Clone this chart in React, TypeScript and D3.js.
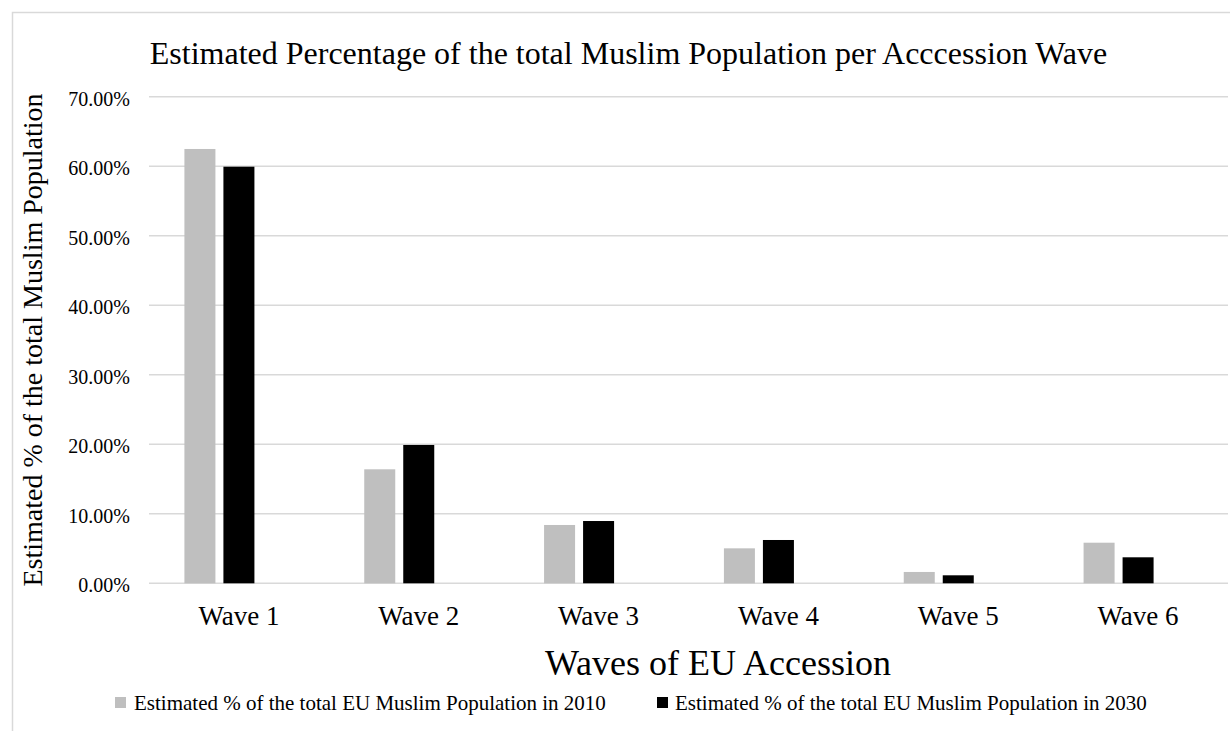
import React from "react";
import * as d3 from "d3";

const categories = ["Wave 1", "Wave 2", "Wave 3", "Wave 4", "Wave 5", "Wave 6"];
const series2010 = [62.48, 16.4, 8.39, 5.03, 1.63, 5.84];
const series2030 = [59.93, 19.9, 8.96, 6.23, 1.15, 3.74];
const seriesNames = [
  "Estimated % of the total EU Muslim Population in 2010",
  "Estimated % of the total EU Muslim Population in 2030",
];
const yTicks = [0, 10, 20, 30, 40, 50, 60, 70];
const title = "Estimated Percentage of the total Muslim Population per Acccession Wave";
const xTitle = "Waves of EU Accession";
const yTitle = "Estimated % of the total Muslim Population";

const W = 1230;
const H = 731;
const FONT = "'Liberation Serif', 'Times New Roman', serif";

export default function App() {
  const plotLeft = 149;
  const plotRight = 1228;
  const y = d3.scaleLinear().domain([0, 70]).range([583.3, 96.7]);
  const x = d3.scaleBand<string>().domain(categories).range([plotLeft, plotRight]).paddingInner(0).paddingOuter(0);
  const inner = d3
    .scaleBand<string>()
    .domain(["2010", "2030", "none"])
    .range([0, x.bandwidth()])
    .paddingInner(0.205)
    .paddingOuter(0.908);
  const seriesData = [
    { key: "2010", values: series2010, color: "#bfbfbf" },
    { key: "2030", values: series2030, color: "#000000" },
  ];
  const fmt = (v: number) => v.toFixed(2) + "%";

  return (
    <svg
      width={W}
      height={H}
      style={{ position: "absolute", left: 0, top: 0, background: "#fff" }}
      fontFamily={FONT}
    >
      <rect x={12.5} y={12.5} width={1250} height={760} fill="#fff" stroke="#d9d9d9" strokeWidth={1.5} />
      <text x={628.5} y={64} fontSize={32} textAnchor="middle" fill="#000">
        {title}
      </text>
      {yTicks.map((t) => (
        <g key={t}>
          <line x1={plotLeft} x2={plotRight} y1={y(t)} y2={y(t)} stroke="#d9d9d9" strokeWidth={1.6} />
          <text x={130} y={y(t) + 9} fontSize={20} textAnchor="end" fill="#000">
            {fmt(t)}
          </text>
        </g>
      ))}
      {seriesData.map((s) =>
        s.values.map((v, i) => (
          <rect
            key={s.key + i}
            x={(x(categories[i]) as number) + (inner(s.key) as number)}
            y={y(v)}
            width={inner.bandwidth()}
            height={y(0) - y(v)}
            fill={s.color}
          />
        ))
      )}
      {categories.map((c) => (
        <text
          key={c}
          x={(x(c) as number) + x.bandwidth() / 2}
          y={625}
          fontSize={27}
          textAnchor="middle"
          fill="#000"
        >
          {c}
        </text>
      ))}
      <text x={718} y={675} fontSize={36} textAnchor="middle" fill="#000">
        {xTitle}
      </text>
      <text
        transform={`translate(42, 340) rotate(-90)`}
        fontSize={28}
        textAnchor="middle"
        fill="#000"
      >
        {yTitle}
      </text>
      <g>
        <rect x={115} y={697} width={11} height={11} fill="#bfbfbf" />
        <text x={134} y={710} fontSize={21} fill="#000">
          {seriesNames[0]}
        </text>
        <rect x={657} y={697} width={11} height={11} fill="#000" />
        <text x={675} y={710} fontSize={21} fill="#000">
          {seriesNames[1]}
        </text>
      </g>
    </svg>
  );
}
